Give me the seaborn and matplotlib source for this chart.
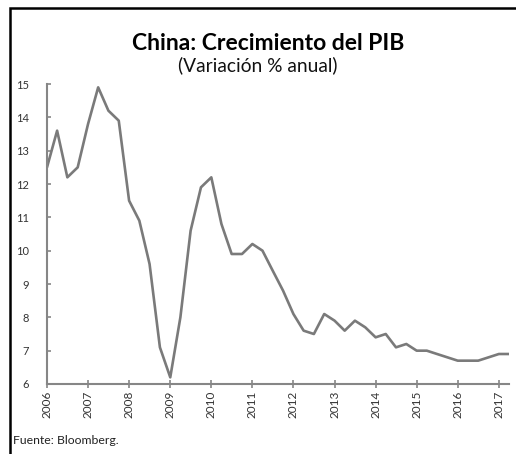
import matplotlib
matplotlib.use("Agg")
import matplotlib.pyplot as plt
import matplotlib.dates as mdates
from matplotlib.patches import Rectangle
import seaborn as sns
import pandas as pd

# ---- data ----
start_quarter = "2006-01-01"
gdp_growth = [12.5, 13.6, 12.2, 12.5,
              13.8, 14.9, 14.2, 13.9,
              11.5, 10.9, 9.6, 7.1,
              6.2, 8.0, 10.6, 11.9,
              12.2, 10.8, 9.9, 9.9,
              10.2, 10.0, 9.4, 8.8,
              8.1, 7.6, 7.5, 8.1,
              7.9, 7.6, 7.9, 7.7,
              7.4, 7.5, 7.1, 7.2,
              7.0, 7.0, 6.9, 6.8,
              6.7, 6.7, 6.7, 6.8,
              6.9, 6.9]
y_ticks = [6, 7, 8, 9, 10, 11, 12, 13, 14, 15]
title = "China: Crecimiento del PIB"
subtitle = "(Variación % anual)"
source = "Fuente: Bloomberg."

dates = pd.date_range(start_quarter, periods=len(gdp_growth), freq="QS")
df = pd.DataFrame({"fecha": dates, "pib": gdp_growth})

sns.set_theme(style="white")
plt.rcParams["font.family"] = ["Lato", "DejaVu Sans"]

fig = plt.figure(figsize=(5.16, 4.54), dpi=100)
ax = fig.add_axes([47/516, 1-384/454, (509-47)/516, (384-84)/454])

sns.lineplot(data=df, x="fecha", y="pib", ax=ax, color="#7a7a7a", linewidth=1.9)

ax.set_xlim(dates[0], dates[-1])
ax.set_ylim(6, 15)
ax.set_yticks(y_ticks)
ax.xaxis.set_major_locator(mdates.YearLocator())
ax.xaxis.set_major_formatter(mdates.DateFormatter("%Y"))
ax.set_xlabel("")
ax.set_ylabel("")

for s in ["top", "right"]:
    ax.spines[s].set_visible(False)
for s in ["left", "bottom"]:
    ax.spines[s].set_color("#868686")
    ax.spines[s].set_linewidth(1.5)

ax.tick_params(axis="y", direction="in", length=3, width=1.2, color="#868686",
               labelsize=8, labelcolor="#333333", pad=13, left=True)
ax.tick_params(axis="x", direction="inout", length=6, width=1.2, color="#868686",
               labelsize=8.5, labelcolor="#333333", rotation=90, pad=2, bottom=True)
ax.grid(False)

fig.text(268/516, 1-43/454, title, ha="center", va="center",
         fontsize=16.5, fontweight="bold", color="#000000")
fig.text(258/516, 1-65/454, subtitle, ha="center", va="center",
         fontsize=13.8, fontweight="normal", color="#111111")
fig.text(13/516, 1-441/454, source, ha="left", va="center",
         fontsize=8.8, fontweight="normal", color="#222222")

border = Rectangle((10/516, -0.2), 1.2, (1-8/454) + 0.2,
                   transform=fig.transFigure, fill=False, edgecolor="black",
                   linewidth=1.8, clip_on=False)
fig.patches.append(border)

fig.savefig("out.png", dpi=100)
